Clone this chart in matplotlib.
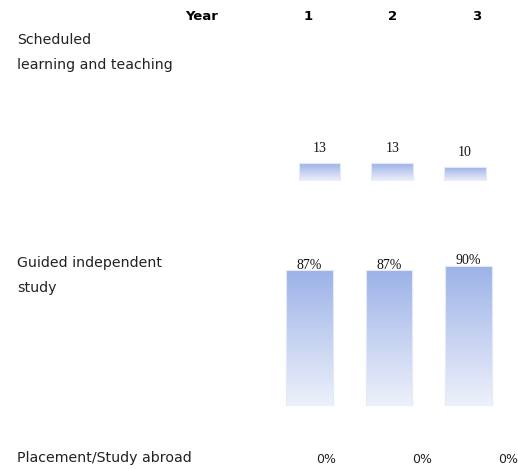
import numpy as np
import matplotlib
matplotlib.use("Agg")
import matplotlib.pyplot as plt
from matplotlib.colors import LinearSegmentedColormap

years = ["1", "2", "3"]
scheduled = [13, 13, 10]
scheduled_labels = ["13", "13", "10"]
guided = [87, 87, 90]
guided_labels = ["87%", "87%", "90%"]
placement = [0, 0, 0]
placement_labels = ["0%", "0%", "0%"]

W, H = 518, 469
fig = plt.figure(figsize=(W / 100, H / 100), dpi=100)
grad = LinearSegmentedColormap.from_list("grad", ["#eef1fb", "#9cb2e7"])
label_font = dict(family="DejaVu Sans", fontsize=10.2, color="#222222")
value_font = dict(family="Liberation Serif", fontsize=10, color="#111111")


def px_axes(left, top, right, bottom):
    ax = fig.add_axes([left / W, 1 - bottom / H, (right - left) / W, (bottom - top) / H])
    ax.axis("off")
    return ax


def gradient_bars(ax, values, labels, width, ymax, offset):
    x = np.arange(len(values))
    bars = ax.bar(x, values, width=width, color="none", edgecolor="#e3e9f8", linewidth=0.8)
    g = np.linspace(0, 1, 256).reshape(-1, 1)
    for b in bars:
        im = ax.imshow(g, cmap=grad, origin="lower", aspect="auto",
                       extent=[b.get_x(), b.get_x() + b.get_width(), 0, b.get_height()])
        im.set_clip_path(b)
    ax.set_xlim(-0.5, len(values) - 0.5)
    ax.set_ylim(0, ymax)
    for xi, v, lab in zip(x, values, labels):
        ax.annotate(lab, (xi, v), xytext=(0, offset), textcoords="offset points",
                    ha="center", va="bottom", clip_on=False, **value_font)
    return bars


# header row
fig.text(185 / W, 1 - 17 / H, "Year", ha="left", va="center", fontweight="bold",
         family="DejaVu Sans", fontsize=9.5)
for xp, y in zip([308, 393, 477], years):
    fig.text(xp / W, 1 - 17 / H, y, ha="center", va="center", fontweight="bold",
             family="DejaVu Sans", fontsize=9.5)

# row labels
fig.text(17 / W, 1 - 40 / H, "Scheduled", ha="left", va="center", **label_font)
fig.text(17 / W, 1 - 65 / H, "learning and teaching", ha="left", va="center", **label_font)
fig.text(17 / W, 1 - 263 / H, "Guided independent", ha="left", va="center", **label_font)
fig.text(17 / W, 1 - 288 / H, "study", ha="left", va="center", **label_font)
fig.text(17 / W, 1 - 458 / H, "Placement/Study abroad", ha="left", va="center", **label_font)

# scheduled learning and teaching
ax1 = px_axes(283, 153.4, 501.5, 181)
gradient_bars(ax1, scheduled, scheduled_labels, 0.57, 20, 6)

# guided independent study
ax2 = px_axes(269.75, 250, 508.25, 406)
gradient_bars(ax2, guided, guided_labels, 0.58, 100, -1)

# placement / study abroad
ax3 = px_axes(281, 450, 554, 466)
ax3.set_xlim(-0.5, 2.5)
ax3.set_ylim(0, 1)
for xi, v, lab in zip(range(3), placement, placement_labels):
    ax3.text(xi + 0.05 * (xi == 1), v, lab, ha="center", va="bottom", clip_on=False,
             family="DejaVu Sans", fontsize=9, color="#222222")

fig.savefig("out.png", dpi=100)
